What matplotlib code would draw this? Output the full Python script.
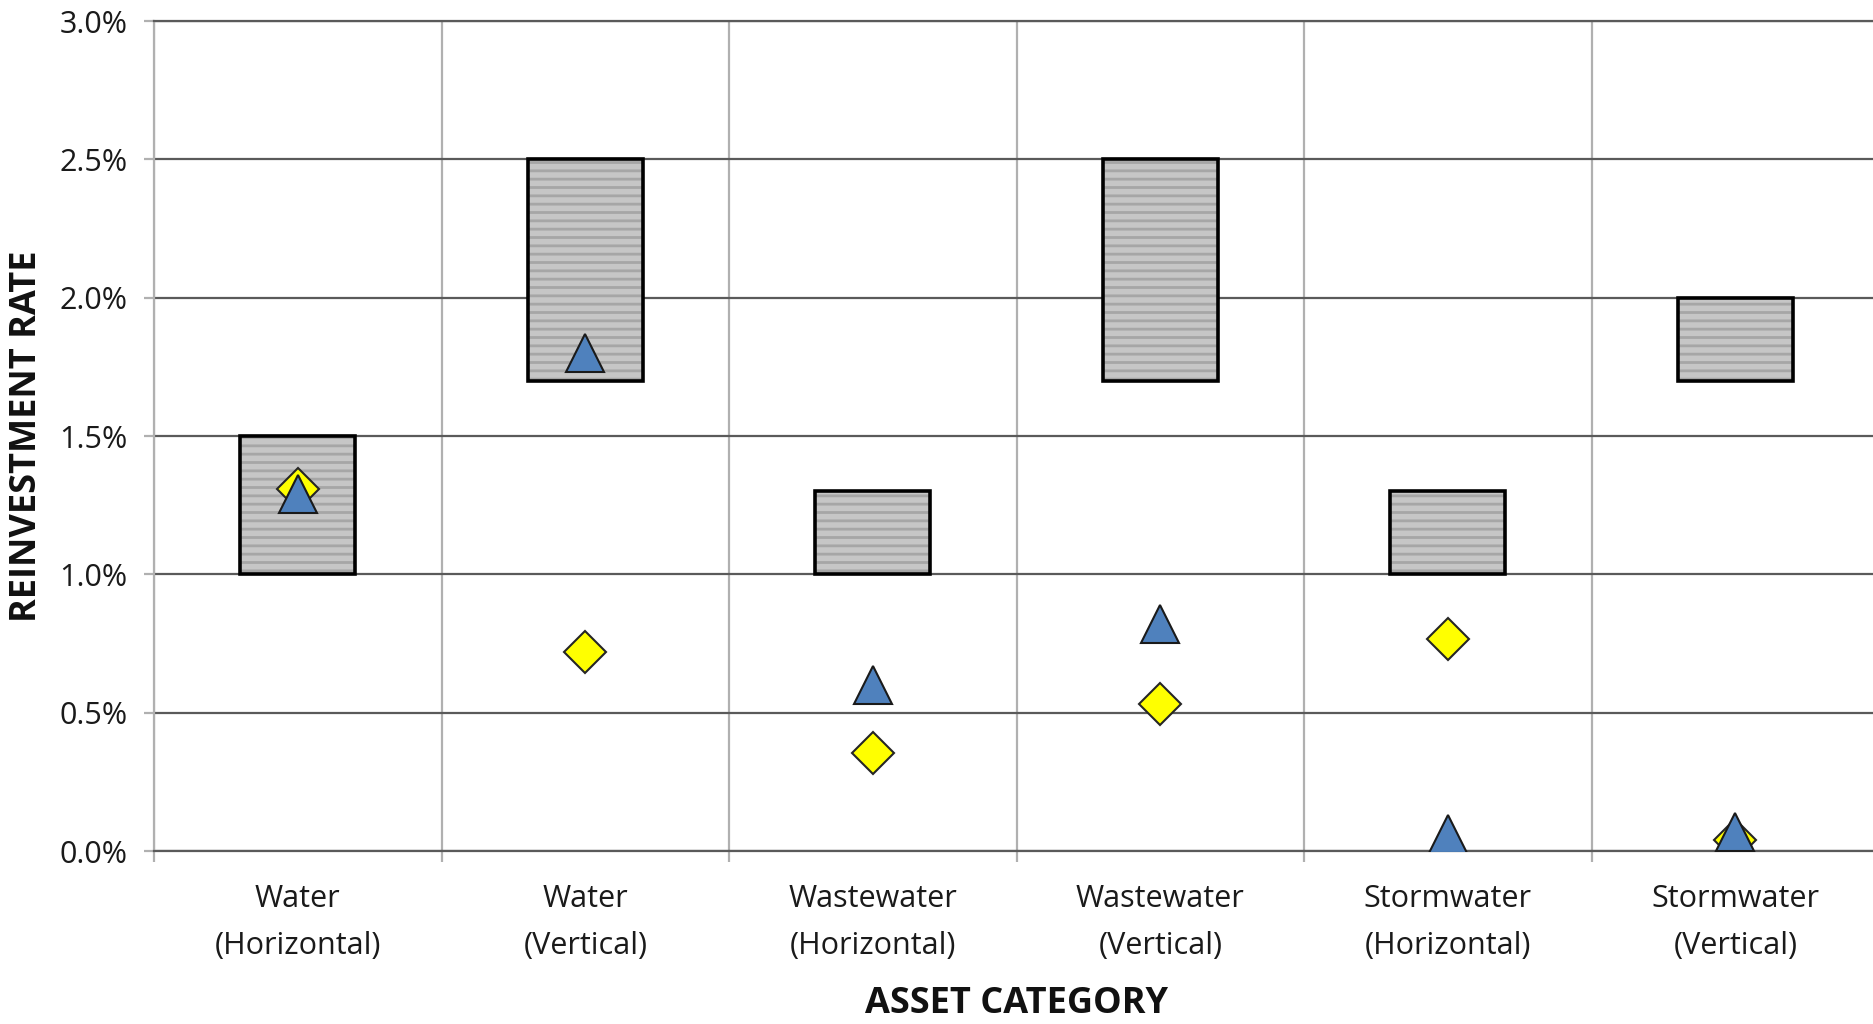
import numpy as np
import matplotlib
matplotlib.use("Agg")
import matplotlib.pyplot as plt
from matplotlib.ticker import PercentFormatter

plt.rcParams['font.family'] = ['Open Sans', 'DejaVu Sans']
plt.rcParams['hatch.linewidth'] = 2.0

# data (percent)
categories = ["Water\n(Horizontal)", "Water\n(Vertical)", "Wastewater\n(Horizontal)",
              "Wastewater\n(Vertical)", "Stormwater\n(Horizontal)", "Stormwater\n(Vertical)"]
range_low = [1.0, 1.7, 1.0, 1.7, 1.0, 1.7]
range_high = [1.5, 2.5, 1.3, 2.5, 1.3, 2.0]
triangle_vals = [1.29, 1.80, 0.60, 0.82, 0.06, 0.07]
diamond_vals = [1.31, 0.72, 0.355, 0.53, 0.765, 0.04]
y_ticks = [0.0, 0.5, 1.0, 1.5, 2.0, 2.5, 3.0]

fig = plt.figure(figsize=(18.74, 10.24), dpi=100)
ax = fig.add_axes([0.0822, 0.1689, 0.9205, 0.8105])

x = np.arange(len(categories)) + 0.5
heights = np.array(range_high) - np.array(range_low)

# floating range boxes: striped fill then black outline
ax.bar(x, heights, bottom=range_low, width=0.4, color='#c6c6c6',
       hatch='--', edgecolor='#a6a6a6', linewidth=0, zorder=2)
ax.bar(x, heights, bottom=range_low, width=0.4, fill=False,
       edgecolor='black', linewidth=2.6, zorder=3)

ax.plot(x, diamond_vals, linestyle='none', marker='D', markersize=21,
        markerfacecolor='#ffff00', markeredgecolor='#262626', markeredgewidth=1.5, zorder=4)
ax.plot(x, triangle_vals, linestyle='none', marker='^', markersize=27,
        markerfacecolor='#4f81bd', markeredgecolor='#1a1a1a', markeredgewidth=1.5, zorder=5)

ax.set_xlim(0, 6)
ax.set_ylim(0, 3.0)
ax.set_yticks(y_ticks)
ax.yaxis.set_major_formatter(PercentFormatter(decimals=1))
ax.set_xticks(x)
ax.set_xticklabels(categories, linespacing=1.72)
ax.set_xticks(np.arange(0, 7), minor=True)

ax.grid(axis='y', color='#5a5a5a', linewidth=1.6, zorder=0)
ax.grid(axis='x', which='minor', color='#b0b0b0', linewidth=1.6, zorder=0)
ax.set_axisbelow(True)

ax.tick_params(axis='x', which='major', length=0, labelsize=22, pad=24, colors='#1a1a1a')
ax.tick_params(axis='x', which='minor', length=8, width=1.6, color='#b0b0b0')
ax.tick_params(axis='y', length=7, width=1.6, color='#b0b0b0', labelsize=22, pad=12,
               labelcolor='#1a1a1a')

ax.spines['right'].set_visible(False)
ax.spines['top'].set_color('#5a5a5a')
ax.spines['top'].set_linewidth(1.6)
ax.spines['bottom'].set_color('#5a5a5a')
ax.spines['bottom'].set_linewidth(1.6)
ax.spines['left'].set_color('#b0b0b0')
ax.spines['left'].set_linewidth(1.6)

ax.set_xlabel('ASSET CATEGORY', fontsize=26, fontweight='bold', color='#111111')
ax.xaxis.set_label_coords(0.5, -0.163)
ax.set_ylabel('REINVESTMENT RATE', fontsize=26, fontweight='bold', color='#111111')
ax.yaxis.set_label_coords(-0.063, 0.5)

fig.savefig('out.png', dpi=100)
